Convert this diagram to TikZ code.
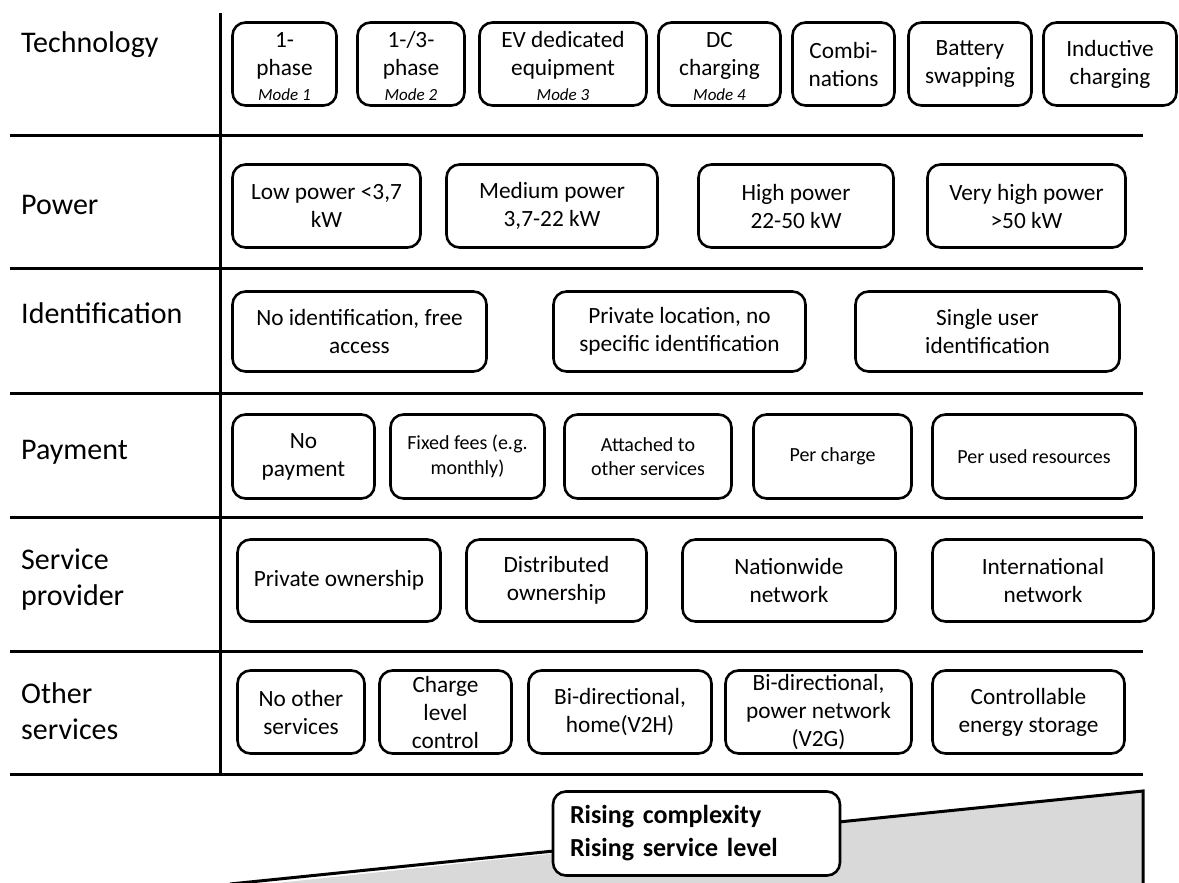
\documentclass[tikz,border=0pt]{standalone}
\usepackage{fontspec}
\setmainfont{Carlito}
\usepackage{tikz}
\definecolor{wedgegray}{HTML}{D9D9D9}
\newcommand{\modenote}[1]{{\fontsize{17}{20}\selectfont\itshape #1}}
\newcommand{\topstrut}{\rule{0pt}{21pt}}

\begin{document}
\begin{tikzpicture}[x=1pt, y=-1pt]

        % Define style
        \tikzstyle{optbox} = [draw, line width=2.6pt, rounded corners=13pt, align=center, inner sep=2pt, font=\fontsize{23.3}{28}\selectfont]
        \tikzstyle{smallbox} = [optbox, font=\fontsize{20}{24.5}\selectfont]
        \tikzstyle{rowlabel} = [anchor=west, align=left, inner sep=0pt, font=\fontsize{30}{36}\selectfont]
        \tikzstyle{rule} = [line width=3pt]

        \useasboundingbox (0,0) rectangle (1179,883);

        % Table lines
        \draw[rule] (220,13) -- (220,774);
        \foreach \y in {135,268,393,517,651,774}
            \draw[rule] (10,\y) -- (1143,\y);

        % Row labels
        \node[rowlabel] (ltech) at (21,45) {Technology};
        \node[rowlabel] (lpower) at (21,205) {Power};
        \node[rowlabel] (lident) at (21,313) {Identification};
        \node[rowlabel] (lpay) at (21,452) {Payment};
        \node[rowlabel] (lprovider) at (21,580) {Service\\provider};
        \node[rowlabel] (lother) at (21,711) {Other\\services};

        % Technology
        \node[optbox, minimum width=104, minimum height=83] (techone) at (284.5,64) {\topstrut 1-\\phase\\[-3pt]\modenote{Mode 1}};
        \node[optbox, minimum width=107, minimum height=83] (techtwo) at (411,64) {\topstrut 1-/3-\\phase\\[-3pt]\modenote{Mode 2}};
        \node[optbox, minimum width=167, minimum height=83] (techthree) at (563,64) {\topstrut EV dedicated\\equipment\\[-3pt]\modenote{Mode 3}};
        \node[optbox, minimum width=122, minimum height=83] (techfour) at (719.5,64) {\topstrut DC\\charging\\[-3pt]\modenote{Mode 4}};
        \node[optbox, minimum width=102, minimum height=83] (techcombi) at (843.5,64) {Combi-\\nations};
        \node[optbox, minimum width=123, minimum height=83] (techswap) at (970,64) {Battery\\swapping};
        \node[optbox, minimum width=133, minimum height=83] (techinduct) at (1110,64) {Inductive\\charging};

        % Power
        \node[optbox, minimum width=188, minimum height=83] (powlow) at (326.5,206) {Low power <3,7\\kW};
        \node[optbox, minimum width=211, minimum height=83] (powmed) at (552,206) {Medium power\\3,7-22 kW};
        \node[optbox, minimum width=195, minimum height=83] (powhigh) at (796,206) {High power\\22-50 kW};
        \node[optbox, minimum width=198, minimum height=83] (powvhigh) at (1026.5,206) {Very high power\\>50 kW};

        % Identification
        \node[optbox, minimum width=254, minimum height=80] (idnone) at (359.5,331.5) {No identification, free\\access};
        \node[optbox, minimum width=252, minimum height=80] (idprivate) at (679.5,331.5) {Private location, no\\specific identification};
        \node[optbox, minimum width=264, minimum height=80] (idsingle) at (987.5,331.5) {Single user\\identification};

        % Payment
        \node[optbox, minimum width=142, minimum height=84] (paynone) at (303.5,456.5) {No\\payment};
        \node[smallbox, minimum width=154, minimum height=84] (payfixed) at (467.5,456.5) {Fixed fees (e.g.\\monthly)};
        \node[smallbox, minimum width=167, minimum height=84] (payattached) at (648,456.5) {Attached to\\other services};
        \node[smallbox, minimum width=158, minimum height=84] (paycharge) at (832.5,456.5) {Per charge};
        \node[smallbox, minimum width=203, minimum height=84] (payresource) at (1034,456.5) {Per used resources};

        % Service provider
        \node[optbox, minimum width=203, minimum height=82] (srvprivate) at (339,580.5) {Private ownership};
        \node[optbox, minimum width=180, minimum height=82] (srvdistrib) at (556.5,580.5) {Distributed\\ownership};
        \node[optbox, minimum width=213, minimum height=82] (srvnation) at (789,580.5) {Nationwide\\network};
        \node[optbox, minimum width=221, minimum height=82] (srvinter) at (1043,580.5) {International\\network};

        % Other services
        \node[optbox, minimum width=127, minimum height=83] (othnone) at (301,712) {No other\\services};
        \node[optbox, minimum width=132, minimum height=83] (othcharge) at (445.5,712) {Charge\\level\\control};
        \node[optbox, minimum width=183, minimum height=83] (othhome) at (620,712) {Bi-directional,\\home(V2H)};
        \node[optbox, minimum width=186, minimum height=83] (othgrid) at (818.5,712) {Bi-directional,\\power network\\(V2G)};
        \node[optbox, minimum width=192, minimum height=83] (othstorage) at (1028.5,712) {Controllable\\energy storage};

        % Rising wedge
        \fill[wedgegray] (230,888) -- (1143,791) -- (1143,888) -- cycle;
        \draw[rule] (230,884) -- (1143,791) -- (1143,888);
        \node[optbox, fill=white, align=left, text width=253, inner xsep=17, minimum height=84, font=\bfseries\fontsize{26}{33}\selectfont] (rising) at (696.5,833.5) {Rising complexity\\Rising service level};

\end{tikzpicture}
\end{document}
